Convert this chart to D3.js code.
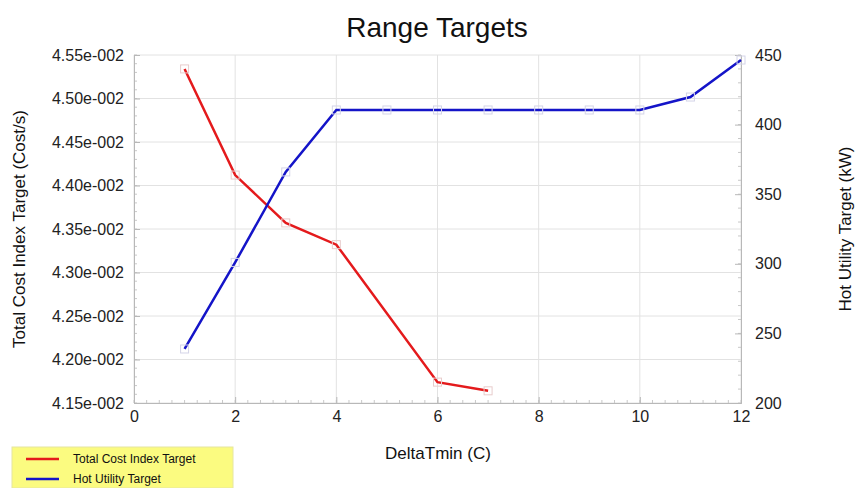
<!DOCTYPE html>
<html><head><meta charset="utf-8">
<script src="https://cdn.jsdelivr.net/npm/d3@7"></script>
<style>body{margin:0;background:#fff;}svg{display:block;font-family:"Liberation Sans",Arial,sans-serif;}</style>
</head><body>
<svg id="c" width="855" height="488"></svg>
<script>
const costX = [1, 2, 3, 4, 6, 7];
const costY = [0.04534, 0.04412, 0.04357, 0.04332, 0.04174, 0.04164];
const hotX = [1, 2, 3, 4, 5, 6, 7, 8, 9, 10, 11, 12];
const hotY = [238.8, 301, 366, 410.5, 410.5, 410.5, 410.5, 410.5, 410.5, 410.5, 419.8, 446.4];
const xTicks = [0, 2, 4, 6, 8, 10, 12];
const leftTicks = [0.0415, 0.0420, 0.0425, 0.0430, 0.0435, 0.0440, 0.0445, 0.0450, 0.0455];
const rightTicks = [200, 250, 300, 350, 400, 450];
const seriesNames = ["Total Cost Index Target", "Hot Utility Target"];
const colors = ["#e41a1c", "#1414c8"];

const svg = d3.select("#c");
const m = {l:134, r:741, t:55, b:403};
const x = d3.scaleLinear().domain([0,12]).range([m.l, m.r]);
const yL = d3.scaleLinear().domain([0.0415,0.0455]).range([m.b, m.t]);
const yR = d3.scaleLinear().domain([200,450]).range([m.b, m.t]);

const fmtL = v => v.toExponential(2).replace(/e-(\d)$/, "e-00$1").replace(/e-(\d\d)$/, "e-0$1");

// grid
const g = svg.append("g");
g.selectAll(".vg").data(xTicks).join("line")
  .attr("x1", d=>x(d)).attr("x2", d=>x(d)).attr("y1", m.t).attr("y2", m.b)
  .attr("stroke", "#e2e2e2").attr("stroke-width", 1);
g.selectAll(".hg").data(leftTicks).join("line")
  .attr("x1", m.l).attr("x2", m.r).attr("y1", d=>yL(d)).attr("y2", d=>yL(d))
  .attr("stroke", "#e2e2e2").attr("stroke-width", 1);

// axes
const axStyle = sel => { sel.select(".domain").attr("stroke", "#b8b8b8"); sel.selectAll(".tick line").attr("stroke", "#b8b8b8"); sel.selectAll("text").attr("fill", "#222").style("font-size", "16px").style("font-family", '"Liberation Sans",Arial,sans-serif'); };

// minor ticks
const minorX = d3.range(0, 12.001, 0.25);
svg.append("g").selectAll("line").data(minorX).join("line")
  .attr("x1", d=>x(d)).attr("x2", d=>x(d)).attr("y1", m.b-3).attr("y2", m.b).attr("stroke", "#c8c8c8");
const minorL = d3.range(0.0415, 0.04551, 0.0001);
svg.append("g").selectAll("line").data(minorL).join("line")
  .attr("x1", m.l).attr("x2", m.l+3).attr("y1", d=>yL(d)).attr("y2", d=>yL(d)).attr("stroke", "#c8c8c8");
const minorR = d3.range(200, 450.1, 10);
svg.append("g").selectAll("line").data(minorR).join("line")
  .attr("x1", m.r-3).attr("x2", m.r).attr("y1", d=>yR(d)).attr("y2", d=>yR(d)).attr("stroke", "#c8c8c8");

svg.append("g").attr("transform", `translate(0,${m.b})`)
  .call(d3.axisBottom(x).tickValues(xTicks).tickSize(-6).tickPadding(8).tickFormat(d3.format("d"))).call(axStyle);
svg.append("g").attr("transform", `translate(${m.l},0)`)
  .call(d3.axisLeft(yL).tickValues(leftTicks).tickSize(-6).tickPadding(10).tickFormat(fmtL)).call(axStyle);
svg.append("g").attr("transform", `translate(${m.r},0)`)
  .call(d3.axisRight(yR).tickValues(rightTicks).tickSize(-6).tickPadding(14).tickFormat(d3.format("d"))).call(axStyle);

// lines
const costData = costX.map((d,i)=>[d, costY[i]]);
const hotData = hotX.map((d,i)=>[d, hotY[i]]);
svg.append("path").datum(costData)
  .attr("d", d3.line().x(d=>x(d[0])).y(d=>yL(d[1])))
  .attr("fill", "none").attr("stroke", colors[0]).attr("stroke-width", 2.5);
svg.append("path").datum(hotData)
  .attr("d", d3.line().x(d=>x(d[0])).y(d=>yR(d[1])))
  .attr("fill", "none").attr("stroke", colors[1]).attr("stroke-width", 2.5);
// markers
svg.append("g").selectAll("rect").data(costData).join("rect")
  .attr("x", d=>x(d[0])-4).attr("y", d=>yL(d[1])-4).attr("width", 8).attr("height", 8)
  .attr("fill", "none").attr("stroke", "#e8cccc").attr("stroke-width", 1);
svg.append("g").selectAll("rect").data(hotData).join("rect")
  .attr("x", d=>x(d[0])-4).attr("y", d=>yR(d[1])-4).attr("width", 8).attr("height", 8)
  .attr("fill", "none").attr("stroke", "#d4d4e8").attr("stroke-width", 1);

// titles
svg.append("text").attr("x", 437).attr("y", 37).attr("text-anchor", "middle")
  .style("font-size", "28px").attr("fill", "#111").text("Range Targets");
svg.append("text").attr("x", 438).attr("y", 459).attr("text-anchor", "middle")
  .style("font-size", "17px").attr("fill", "#111").text("DeltaTmin (C)");
svg.append("text").attr("transform", `translate(25,229) rotate(-90)`).attr("text-anchor", "middle")
  .style("font-size", "17px").attr("fill", "#111").text("Total Cost Index Target (Cost/s)");
svg.append("text").attr("transform", `translate(851,229) rotate(-90)`).attr("text-anchor", "middle")
  .style("font-size", "17px").attr("fill", "#111").text("Hot Utility Target (kW)");

// legend
const lg = svg.append("g");
lg.append("rect").attr("x", 12).attr("y", 447).attr("width", 221).attr("height", 41).attr("fill", "#fbfb80").attr("stroke", "#e6e6a0");
seriesNames.forEach((n,i)=>{
  const yy = 459 + i*20;
  lg.append("line").attr("x1", 26).attr("x2", 59).attr("y1", yy).attr("y2", yy).attr("stroke", colors[i]).attr("stroke-width", 2.5);
  lg.append("text").attr("x", 73).attr("y", yy+4).style("font-size", "12px").attr("fill", "#111").text(n);
});
</script>
</body></html>
